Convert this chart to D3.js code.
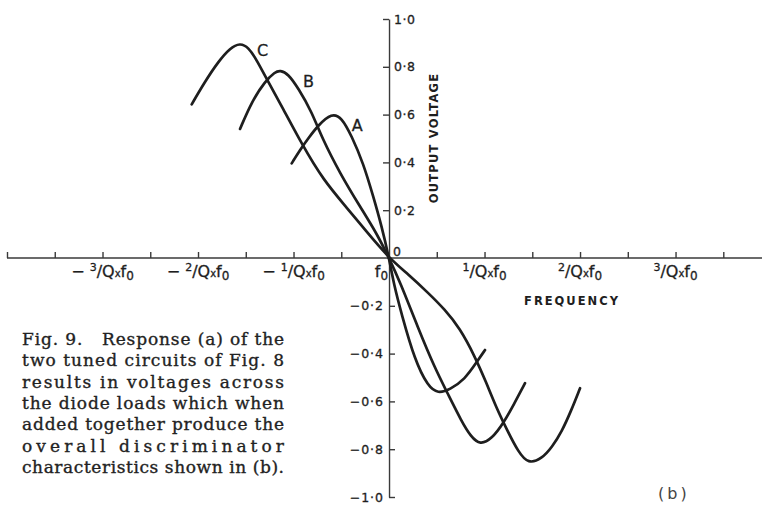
<!DOCTYPE html>
<html><head><meta charset="utf-8">
<script src="https://cdn.jsdelivr.net/npm/d3@7"></script>
<style>html,body{margin:0;padding:0;background:#fff;} svg{display:block;}</style>
</head><body>
<svg id="chart" width="762" height="505"></svg>
<script>
// ---- data (frequency in units of 1/Q x f0, output voltage) ----
const seriesNames = ["A", "B", "C"];
const freqA = [-1.019, -0.932, -0.845, -0.74, -0.60, -0.495, -0.391, -0.269, -0.164, -0.076, 0, 0.052, 0.131, 0.269, 0.408, 0.513, 0.636, 0.793, 0.914, 1.005];
const voltA = [0.396, 0.452, 0.501, 0.556, 0.607, 0.588, 0.51, 0.396, 0.256, 0.131, 0, -0.113, -0.234, -0.427, -0.538, -0.567, -0.551, -0.508, -0.438, -0.385];
const freqB = [-1.56, -1.438, -1.298, -1.194, -1.141, -1.054, -0.95, -0.809, -0.702, -0.513, -0.304, -0.129, 0, 0.115, 0.304, 0.479, 0.607, 0.761, 0.859, 0.953, 1.075, 1.197, 1.309, 1.424];
const voltB = [0.54, 0.654, 0.74, 0.778, 0.786, 0.77, 0.71, 0.612, 0.502, 0.354, 0.215, 0.103, 0, -0.1, -0.293, -0.46, -0.561, -0.685, -0.748, -0.782, -0.757, -0.692, -0.611, -0.524];
const freqC = [-2.066, -1.927, -1.787, -1.665, -1.56, -1.473, -1.385, -1.281, -1.124, -0.914, -0.688, -0.443, -0.234, 0, 0.199, 0.408, 0.583, 0.74, 0.897, 1.019, 1.12, 1.236, 1.354, 1.459, 1.599, 1.707, 1.808, 1.906, 2.0];
const voltC = [0.643, 0.738, 0.822, 0.878, 0.90, 0.882, 0.828, 0.749, 0.636, 0.477, 0.326, 0.211, 0.109, 0, -0.068, -0.145, -0.215, -0.293, -0.41, -0.522, -0.623, -0.72, -0.812, -0.862, -0.84, -0.791, -0.727, -0.64, -0.545];
const xTickValues = [-4, -3.5, -3, -2.5, -2, -1.5, -1, -0.5, 0.5, 1, 1.5, 2, 2.5, 3, 3.5];
const xLabelValues = [-3, -2, -1, 1, 2, 3];
const yTickPos = [0.2, 0.4, 0.6, 0.8, 1.0];
const yTickNeg = [-0.2, -0.4, -0.6, -0.8, -1.0];
const captionLines = [
  "Fig. 9.   Response (a) of the",
  "two tuned circuits of Fig. 8",
  "results in voltages across",
  "the diode loads which when",
  "added together produce the",
  "overall discriminator",
  "characteristics shown in (b)."
];

// ---- layout / style ----
const labelOffset = {A: [20, 18], B: [23, 17], C: [17, 13]};
const svg = d3.select("#chart");
const x = d3.scaleLinear().domain([-4, 3.9]).range([7, 761.5]);
const y = d3.scaleLinear().domain([-1, 1]).range([497, 19]);
const ink = "#1e1e1e";
const axisInk = "#3a3a3a";
const sans = "'DejaVu Sans', sans-serif";

// x axis
const gx = svg.append("g").attr("transform", `translate(0,${y(0)})`)
  .call(d3.axisTop(x).tickValues(xTickValues).tickSize(6).tickSizeOuter(0).tickFormat(""));
gx.select(".domain").attr("d", `M${x(-4)},0H762`);
// y axis positive (ticks left)
svg.append("g").attr("transform", `translate(${x(0)},0)`)
  .call(d3.axisLeft(y).tickValues(yTickPos).tickSize(6).tickSizeOuter(0).tickFormat(""));
// y axis negative (ticks right)
const gyn = svg.append("g").attr("transform", `translate(${x(0)},0)`)
  .call(d3.axisRight(y).tickValues(yTickNeg).tickSize(6).tickSizeOuter(0).tickFormat(""));
gyn.select(".domain").remove();
svg.selectAll(".domain, .tick line").attr("stroke", axisInk).attr("stroke-width", 1.4);

const fmt = v => (v < 0 ? "\u2212" : "") + Math.abs(v).toFixed(1).replace(".", "\u00b7");
const boldish = sel => sel.attr("stroke", ink).attr("stroke-width", 0.3);
svg.append("g").selectAll("text").data(yTickPos).join("text")
  .attr("x", x(0) + 5).attr("y", d => y(d) + 4.5)
  .attr("font-family", sans).attr("font-size", 12.5).attr("letter-spacing", 0.5).attr("fill", ink)
  .call(boldish).text(fmt);
svg.append("g").selectAll("text").data(yTickNeg).join("text")
  .attr("x", x(0) - 5).attr("y", d => y(d) + 4.5).attr("text-anchor", "end")
  .attr("font-family", sans).attr("font-size", 12.5).attr("letter-spacing", 1).attr("fill", ink)
  .call(boldish).text(fmt);
svg.append("text").attr("x", x(0) + 4).attr("y", y(0) - 2)
  .attr("font-family", sans).attr("font-size", 12.5).attr("fill", ink).call(boldish).text("0");

// x labels
const xl = svg.append("g").selectAll("text").data(xLabelValues).join("text")
  .attr("x", d => x(d)).attr("y", y(0) + 19).attr("text-anchor", "middle")
  .attr("font-family", sans).attr("font-size", 16).attr("fill", ink).call(boldish);
xl.each(function(d) {
  const t = d3.select(this);
  if (d < 0) t.append("tspan").text("\u2212 ");
  t.append("tspan").attr("font-size", 11).attr("dy", -6).text(Math.abs(d));
  t.append("tspan").attr("dy", 6).text("/Q");
  t.append("tspan").attr("font-size", 10).text("x");
  t.append("tspan").text("f");
  t.append("tspan").attr("font-size", 12).attr("dy", 3).text("0");
});
const f0 = svg.append("text").attr("x", x(0) - 1).attr("y", y(0) + 19).attr("text-anchor", "end")
  .attr("font-family", sans).attr("font-size", 16).attr("fill", ink).call(boldish);
f0.append("tspan").text("f");
f0.append("tspan").attr("font-size", 12).attr("dy", 3).text("0");

// axis titles
svg.append("text").attr("x", 572).attr("y", 305).attr("text-anchor", "middle")
  .attr("font-family", sans).attr("font-size", 11.5).attr("font-weight", "bold")
  .attr("letter-spacing", 2).attr("fill", ink).text("FREQUENCY");
svg.append("text").attr("transform", `translate(438,138) rotate(-90)`).attr("text-anchor", "middle")
  .attr("font-family", sans).attr("font-size", 11.5).attr("font-weight", "bold")
  .attr("letter-spacing", 1.2).attr("fill", ink).text("OUTPUT VOLTAGE");

// curves
const series = [
  {name: "A", fx: freqA, fy: voltA},
  {name: "B", fx: freqB, fy: voltB},
  {name: "C", fx: freqC, fy: voltC}
];
const line = d3.line().x(d => x(d[0])).y(d => y(d[1])).curve(d3.curveBasis);
svg.append("g").selectAll("path").data(series).join("path")
  .attr("d", s => line(s.fx.map((v, i) => [v, s.fy[i]])))
  .attr("fill", "none").attr("stroke", ink).attr("stroke-width", 2.7)
  .attr("stroke-linejoin", "round").attr("stroke-linecap", "round");

// curve labels, placed just right of each peak
svg.append("g").selectAll("text").data(series).join("text")
  .attr("x", s => { const i = d3.maxIndex(s.fy); return x(s.fx[i]) + labelOffset[s.name][0]; })
  .attr("y", s => { const i = d3.maxIndex(s.fy); return y(s.fy[i]) + labelOffset[s.name][1]; })
  .attr("font-family", sans).attr("font-size", 16).attr("fill", ink).call(boldish)
  .text(s => s.name);

// caption
const cap = svg.append("g");
captionLines.forEach((ln, i) => {
  cap.append("text").attr("x", 22).attr("y", 345 + i * 21.3)
    .attr("font-family", "'DejaVu Serif', serif").attr("font-size", 17).attr("fill", "#222")
    .attr("stroke", "#222").attr("stroke-width", 0.35)
    .attr("textLength", 262).attr("lengthAdjust", "spacing")
    .style("white-space", "pre")
    .text(ln);
});
svg.append("text").attr("x", 658).attr("y", 499)
  .attr("font-family", sans).attr("font-size", 16).attr("letter-spacing", 3).attr("fill", "#444").text("(b)");
</script>
</body></html>
